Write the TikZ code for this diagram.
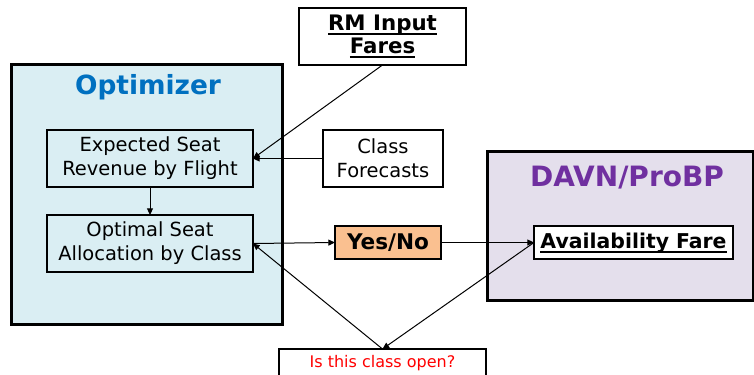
\documentclass[tikz,border=0pt]{standalone}
\usepackage{fontspec}
\setmainfont{DejaVu Sans}
\usetikzlibrary{arrows.meta}
\definecolor{optfill}{HTML}{DAEEF3}
\definecolor{davnfill}{HTML}{E4DFEC}
\definecolor{ynfill}{HTML}{FAC090}
\definecolor{optblue}{HTML}{0070C0}
\definecolor{davnpurple}{HTML}{7030A0}
\newdimen\px \px=0.75pt
\newcommand\myul[1]{\setbox0\hbox{#1}\rlap{\rule[-3pt]{\wd0}{1.1pt}}\box0}
\tikzset{
  big/.style={draw=black, line width=2.25pt, inner sep=0pt, outer sep=0pt},
  box/.style={draw=black, line width=1.5pt, inner sep=0pt, outer sep=0pt, align=center,
    font=\fontsize{14.6}{18}\selectfont},
  bbox/.style={box, font=\fontsize{15.3}{17.5}\selectfont\bfseries},
  title/.style={font=\fontsize{19.8}{24}\selectfont\bfseries, inner sep=0pt},
  conn/.style={line width=0.75pt, -{Triangle[length=5pt,width=4.5pt]}},
}
\begin{document}
\begin{tikzpicture}[x=0.75pt,y=-0.75pt]
\useasboundingbox (0,0) rectangle (754,375);
% big containers
\node[big, fill=optfill, minimum width=271\px, minimum height=260\px] (optimizer) at (146.5,194) {};
\node[big, fill=davnfill, minimum width=266\px, minimum height=149\px] (davn) at (620,225.5) {};
\node[title, text=optblue] (optt) at (148,87) {Optimizer};
\node[title, text=davnpurple, font=\fontsize{21}{24}\selectfont\bfseries] (davnt) at (627,178) {DAVN/ProBP};
% inner boxes
\node[box, fill=optfill, minimum width=206\px, minimum height=57\px] (exp) at (150,158.5) {Expected Seat\\Revenue by Flight};
\node[box, fill=optfill, minimum width=206\px, minimum height=57\px] (opt) at (150,243.5) {Optimal Seat\\Allocation by Class};
\node[bbox, fill=white, minimum width=167\px, minimum height=57\px, font=\fontsize{16}{17.3}\selectfont\bfseries] (rm) at (382.5,36.5) {\myul{RM Input}\\\myul{Fares}};
\node[box, fill=white, minimum width=120\px, minimum height=57\px] (cf) at (383,158.5) {Class\\Forecasts};
\node[bbox, fill=ynfill, minimum width=106\px, minimum height=33\px, font=\fontsize{16.2}{18}\selectfont\bfseries] (yn) at (388,242.5) {Yes/No};
\node[bbox, fill=white, minimum width=199\px, minimum height=33\px, text height=16\px, text depth=4\px] (av) at (633.5,242.5) {\myul{Availability Fare}};
\node[box, fill=white, anchor=north, minimum width=207\px, text height=14\px, text depth=24\px, inner ysep=4\px,
  font=\fontsize{12}{14}\selectfont, text=red] (q) at (382.5,349) {Is this class open?};
% connectors
\draw[conn] (rm.south) -- (exp.east);
\draw[conn] (cf.west) -- (exp.east);
\draw[conn] (exp.south) -- (opt.north);
\draw[conn] (opt.east) -- (yn.west);
\draw[conn] (yn.east) -- (av.west);
\draw[conn] (av.west) -- (q.north);
\draw[conn] (q.north) -- (opt.east);
\end{tikzpicture}
\end{document}
